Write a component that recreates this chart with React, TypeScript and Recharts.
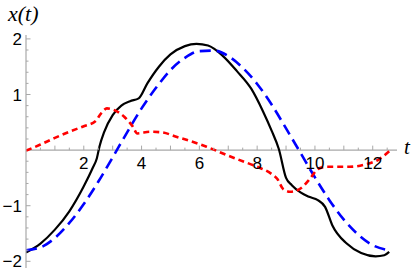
import React from 'react';
import { LineChart, Line, XAxis, YAxis, ReferenceLine } from 'recharts';

// solid black curve
const BLACK_T = [0, 0.5, 1, 1.5, 2, 2.3, 2.45, 2.55, 2.7, 3, 3.3, 3.6, 3.9, 4.2, 4.6, 5, 5.5, 5.9, 6.3, 6.8, 7.3, 7.8, 8.2, 8.5, 8.75, 9, 9.2, 9.5, 9.8, 10.1, 10.35, 10.6, 11.1, 11.6, 12.1, 12.4, 12.57];
const BLACK_X = [-1.84, -1.68, -1.43, -1.1, -0.65, -0.33, -0.15, 0.08, 0.32, 0.63, 0.8, 0.88, 0.93, 1.2, 1.5, 1.72, 1.87, 1.91, 1.88, 1.7, 1.42, 1.1, 0.7, 0.35, 0.02, -0.5, -0.63, -0.76, -0.84, -0.9, -1.02, -1.35, -1.68, -1.85, -1.91, -1.89, -1.83];

// dashed blue curve
const BLUE_T = [0, 0.5, 1, 1.5, 2, 2.5, 3, 3.5, 4, 4.5, 5, 5.5, 6, 6.5, 7, 7.5, 8, 8.5, 9, 9.5, 10, 10.5, 11, 11.5, 12, 12.57];
const BLUE_X = [-1.8, -1.75, -1.58, -1.31, -0.97, -0.57, -0.13, 0.32, 0.75, 1.12, 1.44, 1.66, 1.78, 1.79, 1.69, 1.48, 1.19, 0.82, 0.39, -0.05, -0.49, -0.9, -1.25, -1.52, -1.71, -1.8];

// short-dashed red curve
const RED_T = [0, 0.5, 1, 1.5, 2, 2.4, 2.6, 2.8, 3, 3.4, 3.7, 3.85, 4.3, 4.7, 5.2, 5.7, 6.25, 7, 7.5, 8, 8.5, 8.7, 8.9, 9.15, 9.5, 9.85, 10.1, 10.4, 11.2, 11.8, 12.2, 12.57];
const RED_X = [-0.01, 0.1, 0.22, 0.33, 0.43, 0.52, 0.66, 0.75, 0.73, 0.6, 0.42, 0.3, 0.33, 0.32, 0.24, 0.16, 0.06, -0.1, -0.2, -0.3, -0.43, -0.52, -0.7, -0.75, -0.69, -0.5, -0.34, -0.3, -0.3, -0.25, -0.17, -0.02];

const X_TICKS = [0.5, 1, 1.5, 2, 2.5, 3, 3.5, 4, 4.5, 5, 5.5, 6, 6.5, 7, 7.5, 8, 8.5, 9, 9.5, 10, 10.5, 11, 11.5, 12, 12.5];
const X_LABELS = [2, 4, 6, 8, 10, 12];
const Y_TICKS = [-2, -1.8, -1.6, -1.4, -1.2, -1, -0.8, -0.6, -0.4, -0.2, 0.2, 0.4, 0.6, 0.8, 1, 1.2, 1.4, 1.6, 1.8, 2];
const Y_LABELS = [-2, -1, 1, 2];

const X_DOMAIN: [number, number] = [0, 12.84];
const Y_DOMAIN: [number, number] = [-2.12, 2.07];

const W = 415;
const H = 272;
const PLOT_LEFT = 26;
const PLOT_TOP = 35;
const PLOT_H = 233;
const ZERO_Y = PLOT_TOP + (Y_DOMAIN[1] / (Y_DOMAIN[1] - Y_DOMAIN[0])) * PLOT_H;

const AXIS_GRAY = '#a8a8a8';
const LABEL_FONT = '"Liberation Sans", Arial, sans-serif';
const TITLE_FONT = '"Liberation Serif", "Times New Roman", serif';

const zip = (ts: number[], xs: number[]) => ts.map((t, i) => ({ t, x: xs[i] }));
const blackData = zip(BLACK_T, BLACK_X);
const blueData = zip(BLUE_T, BLUE_X);
const redData = zip(RED_T, RED_X);

const fmt = (v: number) => (v < 0 ? `\u2212${Math.abs(v)}` : `${v}`);

const XTick = (props: any) => {
  const { x, payload } = props;
  const v = payload.value as number;
  const major = Number.isInteger(v);
  return (
    <g>
      <line x1={x} x2={x} y1={ZERO_Y} y2={ZERO_Y - (major ? 4.5 : 2.5)} stroke={AXIS_GRAY} strokeWidth={1} />
      {X_LABELS.includes(v) && (
        <text x={x} y={ZERO_Y + 19} textAnchor="middle" fontSize={17} fontFamily={LABEL_FONT} fill="#000">
          {v}
        </text>
      )}
    </g>
  );
};

const YTick = (props: any) => {
  const { y, payload } = props;
  const v = payload.value as number;
  const major = Number.isInteger(v);
  return (
    <g>
      <line x1={PLOT_LEFT} x2={PLOT_LEFT + (major ? 4.5 : 2.5)} y1={y} y2={y} stroke={AXIS_GRAY} strokeWidth={1} />
      {Y_LABELS.includes(v) && (
        <text x={PLOT_LEFT - 4} y={y + 6} textAnchor="end" fontSize={17} fontFamily={LABEL_FONT} fill="#000">
          {fmt(v)}
        </text>
      )}
    </g>
  );
};

export default function App() {
  return (
    <div style={{ position: 'absolute', left: 0, top: 0, width: W, height: H, background: '#fff' }}>
      <LineChart width={W} height={H} margin={{ top: PLOT_TOP, right: 18, left: 0, bottom: 0 }}>
        <XAxis
          dataKey="t"
          type="number"
          domain={X_DOMAIN}
          allowDataOverflow
          ticks={X_TICKS}
          interval={0}
          height={4}
          axisLine={false}
          tickLine={false}
          tickSize={0}
          tick={<XTick />}
        />
        <YAxis
          type="number"
          domain={Y_DOMAIN}
          allowDataOverflow
          ticks={Y_TICKS}
          interval={0}
          width={PLOT_LEFT}
          axisLine={{ stroke: AXIS_GRAY, strokeWidth: 1.2 }}
          tickLine={false}
          tickSize={0}
          tick={<YTick />}
        />
        <ReferenceLine y={0} stroke={AXIS_GRAY} strokeWidth={1.2} />
        <Line data={blackData} dataKey="x" type="monotone" stroke="#000" strokeWidth={2.2} dot={false} isAnimationActive={false} />
        <Line data={blueData} dataKey="x" type="monotone" stroke="#0000ff" strokeWidth={2.6} strokeDasharray="11 6" dot={false} isAnimationActive={false} />
        <Line data={redData} dataKey="x" type="monotone" stroke="#ff0000" strokeWidth={2.6} strokeDasharray="6 4" dot={false} isAnimationActive={false} />
      </LineChart>
      <div style={{ position: 'absolute', left: 8, top: 0, fontFamily: TITLE_FONT, fontStyle: 'italic', fontSize: 22, lineHeight: '28px' }}>
        x(t)
      </div>
      <div style={{ position: 'absolute', left: 404, top: 134, fontFamily: TITLE_FONT, fontStyle: 'italic', fontSize: 21, lineHeight: '26px' }}>
        t
      </div>
    </div>
  );
}
